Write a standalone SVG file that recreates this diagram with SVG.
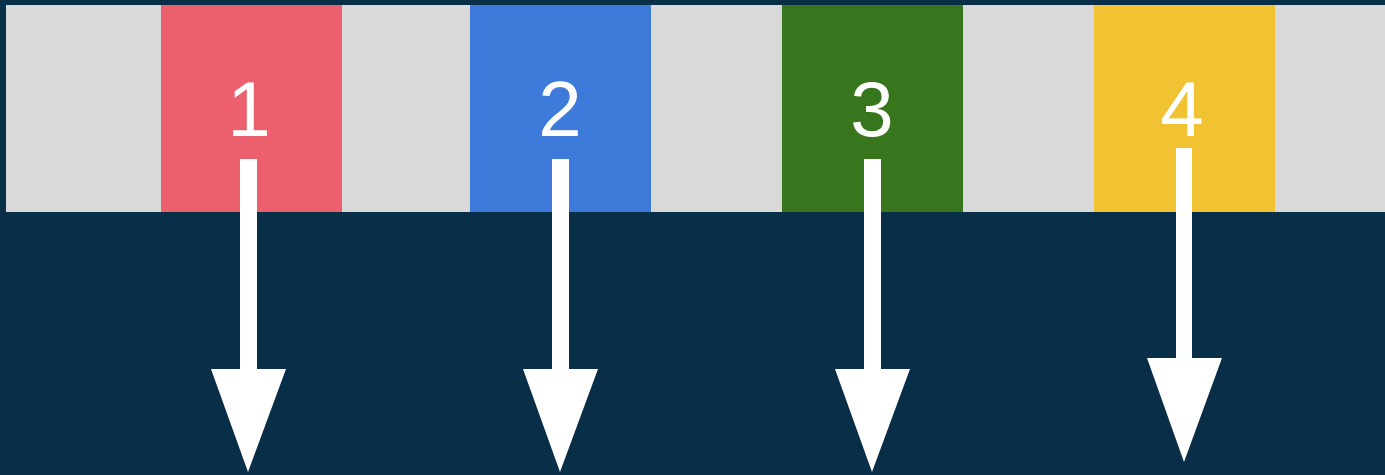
<svg xmlns="http://www.w3.org/2000/svg" width="1385" height="475" viewBox="0 0 1385 475">
  <style>
    .band { fill: #d9d9d9; }
    .label { fill: #ffffff; font-family: "Liberation Sans", Arial, sans-serif; font-size: 78px; text-anchor: middle; }
    .shaft { fill: #ffffff; }
    .head { fill: #ffffff; }
  </style>
  <rect width="1385" height="475" fill="#092e47"/>
  <rect class="band" x="6" y="5" width="1379" height="207"/>

  <g id="node-1">
    <rect x="161" y="5" width="181" height="207" fill="#ec606e"/>
    <text class="label" x="249" y="136">1</text>
  </g>
  <g id="node-2">
    <rect x="470" y="5" width="181" height="207" fill="#3d7ada"/>
    <text class="label" x="560" y="136">2</text>
  </g>
  <g id="node-3">
    <rect x="782" y="5" width="181" height="207" fill="#38761d"/>
    <text class="label" x="872" y="136">3</text>
  </g>
  <g id="node-4">
    <rect x="1094" y="5" width="181" height="207" fill="#f1c232"/>
    <text class="label" x="1182" y="136">4</text>
  </g>

  <g id="connectors">
    <rect class="shaft" x="240" y="159" width="17" height="212"/>
    <polygon class="head" points="211,369 286,369 248,472"/>
    <rect class="shaft" x="552" y="159" width="17" height="212"/>
    <polygon class="head" points="523,369 598,369 560,472"/>
    <rect class="shaft" x="864" y="159" width="17" height="212"/>
    <polygon class="head" points="835,369 910,369 872,472"/>
    <rect class="shaft" x="1176" y="148" width="16" height="212"/>
    <polygon class="head" points="1147,358 1222,358 1184,462"/>
  </g>
</svg>
